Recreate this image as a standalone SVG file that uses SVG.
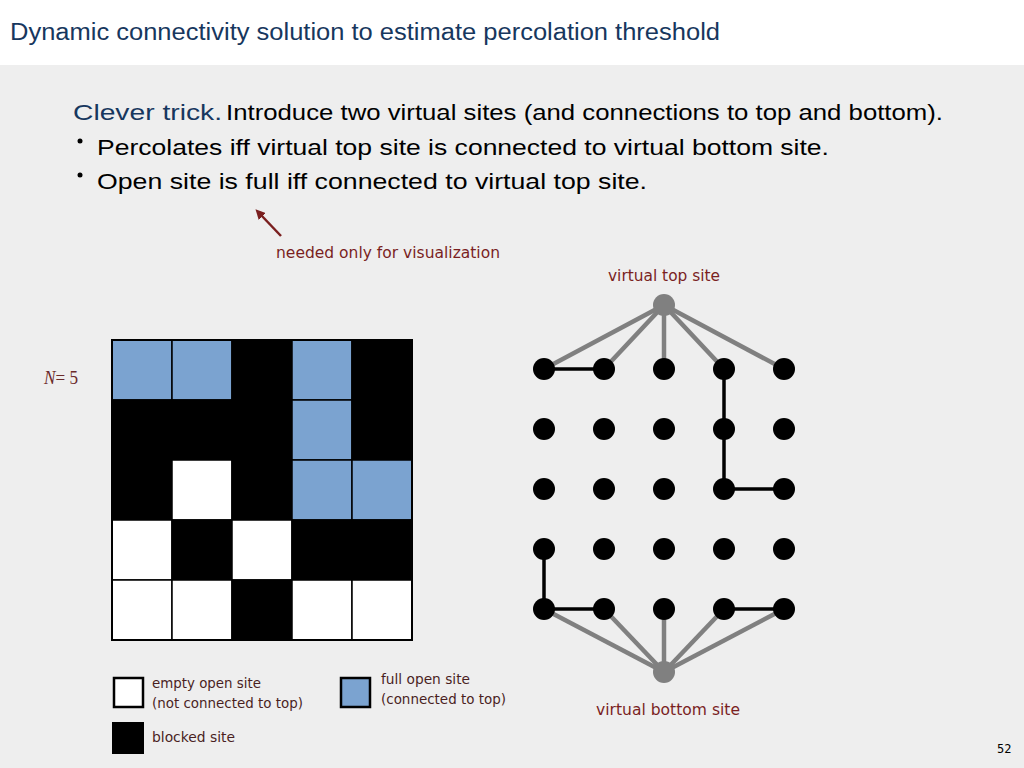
<svg xmlns="http://www.w3.org/2000/svg" width="1024" height="768" viewBox="0 0 1024 768">
<defs>
<style>
.title{font-family:"Liberation Sans",Arial,sans-serif;font-size:23px;fill:#17375e}
.body{font-family:"Liberation Sans",Arial,sans-serif;font-size:22px;fill:#000}
.note{font-family:"DejaVu Sans","Liberation Sans",sans-serif;font-size:15px;fill:#7a1f1f}
.leg{font-family:"DejaVu Sans","Liberation Sans",sans-serif;font-size:13.5px;fill:#4a1f1f}
.cell{stroke:#000;stroke-width:1.5}
.b{fill:#7ba3d0}.k{fill:#000}.w{fill:#fff}
.dot{fill:#000}
.vdot{fill:#808080}
.g{stroke:#808080;stroke-width:4.5}
.e{stroke:#000;stroke-width:3.5}
</style>
<marker id="ah" viewBox="0 0 10 10" refX="2" refY="5" markerWidth="4" markerHeight="4" orient="auto">
<path d="M0,0 L10,5 L0,10 z" fill="#7a1f1f"/>
</marker>
</defs>
<rect x="0" y="0" width="1024" height="768" fill="#eeeeee"/>
<rect x="0" y="0" width="1024" height="65" fill="#ffffff"/>
<text class="title" x="10" y="40" textLength="710" lengthAdjust="spacingAndGlyphs">Dynamic connectivity solution to estimate percolation threshold</text>

<g id="text-body">
<text class="body" x="73" y="120"><tspan fill="#17375e" textLength="149" lengthAdjust="spacingAndGlyphs">Clever trick.</tspan><tspan x="226" textLength="717" lengthAdjust="spacingAndGlyphs">Introduce two virtual sites (and connections to top and bottom).</tspan></text>
<circle cx="80" cy="141" r="2.5" fill="#000"/>
<text class="body" x="97" y="155" textLength="732" lengthAdjust="spacingAndGlyphs">Percolates iff virtual top site is connected to virtual bottom site.</text>
<circle cx="80" cy="175" r="2.5" fill="#000"/>
<text class="body" x="97" y="189" textLength="550" lengthAdjust="spacingAndGlyphs">Open site is full iff connected to virtual top site.</text>
</g>

<g id="note">
<line x1="281" y1="236" x2="261" y2="215" stroke="#7a1f1f" stroke-width="2.5" marker-end="url(#ah)"/>
<text class="note" x="276" y="258" textLength="224" lengthAdjust="spacingAndGlyphs">needed only for visualization</text>
</g>

<text x="44" y="384" font-family="Liberation Serif,serif" font-size="18" fill="#6b2a2a" textLength="34" lengthAdjust="spacingAndGlyphs"><tspan font-style="italic">N</tspan>= 5</text>

<g id="grid">
<rect class="cell b" x="112" y="340" width="60" height="60"/>
<rect class="cell b" x="172" y="340" width="60" height="60"/>
<rect class="cell k" x="232" y="340" width="60" height="60"/>
<rect class="cell b" x="292" y="340" width="60" height="60"/>
<rect class="cell k" x="352" y="340" width="60" height="60"/>
<rect class="cell k" x="112" y="400" width="60" height="60"/>
<rect class="cell k" x="172" y="400" width="60" height="60"/>
<rect class="cell k" x="232" y="400" width="60" height="60"/>
<rect class="cell b" x="292" y="400" width="60" height="60"/>
<rect class="cell k" x="352" y="400" width="60" height="60"/>
<rect class="cell k" x="112" y="460" width="60" height="60"/>
<rect class="cell w" x="172" y="460" width="60" height="60"/>
<rect class="cell k" x="232" y="460" width="60" height="60"/>
<rect class="cell b" x="292" y="460" width="60" height="60"/>
<rect class="cell b" x="352" y="460" width="60" height="60"/>
<rect class="cell w" x="112" y="520" width="60" height="60"/>
<rect class="cell k" x="172" y="520" width="60" height="60"/>
<rect class="cell w" x="232" y="520" width="60" height="60"/>
<rect class="cell k" x="292" y="520" width="60" height="60"/>
<rect class="cell k" x="352" y="520" width="60" height="60"/>
<rect class="cell w" x="112" y="580" width="60" height="60"/>
<rect class="cell w" x="172" y="580" width="60" height="60"/>
<rect class="cell k" x="232" y="580" width="60" height="60"/>
<rect class="cell w" x="292" y="580" width="60" height="60"/>
<rect class="cell w" x="352" y="580" width="60" height="60"/>
<rect x="112" y="340" width="300" height="300" fill="none" stroke="#000" stroke-width="2"/>
</g>

<g id="connectors">
<line class="g" x1="664" y1="305" x2="544" y2="369"/>
<line class="g" x1="664" y1="305" x2="604" y2="369"/>
<line class="g" x1="664" y1="305" x2="664" y2="369"/>
<line class="g" x1="664" y1="305" x2="724" y2="369"/>
<line class="g" x1="664" y1="305" x2="784" y2="369"/>
<line class="g" x1="664" y1="672" x2="544" y2="609"/>
<line class="g" x1="664" y1="672" x2="604" y2="609"/>
<line class="g" x1="664" y1="672" x2="664" y2="609"/>
<line class="g" x1="664" y1="672" x2="724" y2="609"/>
<line class="g" x1="664" y1="672" x2="784" y2="609"/>
<line class="e" x1="544" y1="369" x2="604" y2="369"/>
<line class="e" x1="724" y1="369" x2="724" y2="489"/>
<line class="e" x1="724" y1="489" x2="784" y2="489"/>
<line class="e" x1="544" y1="549" x2="544" y2="609"/>
<line class="e" x1="544" y1="609" x2="604" y2="609"/>
<line class="e" x1="724" y1="609" x2="784" y2="609"/>
</g>

<g id="virtual-top"><circle class="vdot" cx="664" cy="305" r="11"/></g>
<g id="virtual-bottom"><circle class="vdot" cx="664" cy="672" r="11"/></g>

<g id="sites">
<circle class="dot" cx="544" cy="369" r="11"/><circle class="dot" cx="604" cy="369" r="11"/><circle class="dot" cx="664" cy="369" r="11"/><circle class="dot" cx="724" cy="369" r="11"/><circle class="dot" cx="784" cy="369" r="11"/>
<circle class="dot" cx="544" cy="429" r="11"/><circle class="dot" cx="604" cy="429" r="11"/><circle class="dot" cx="664" cy="429" r="11"/><circle class="dot" cx="724" cy="429" r="11"/><circle class="dot" cx="784" cy="429" r="11"/>
<circle class="dot" cx="544" cy="489" r="11"/><circle class="dot" cx="604" cy="489" r="11"/><circle class="dot" cx="664" cy="489" r="11"/><circle class="dot" cx="724" cy="489" r="11"/><circle class="dot" cx="784" cy="489" r="11"/>
<circle class="dot" cx="544" cy="549" r="11"/><circle class="dot" cx="604" cy="549" r="11"/><circle class="dot" cx="664" cy="549" r="11"/><circle class="dot" cx="724" cy="549" r="11"/><circle class="dot" cx="784" cy="549" r="11"/>
<circle class="dot" cx="544" cy="609" r="11"/><circle class="dot" cx="604" cy="609" r="11"/><circle class="dot" cx="664" cy="609" r="11"/><circle class="dot" cx="724" cy="609" r="11"/><circle class="dot" cx="784" cy="609" r="11"/>
</g>

<text class="note" x="608" y="281" textLength="112" lengthAdjust="spacingAndGlyphs">virtual top site</text>
<text class="note" x="596" y="715" textLength="144" lengthAdjust="spacingAndGlyphs">virtual bottom site</text>

<g id="legend">
<rect x="114" y="678" width="29" height="29" fill="#fff" stroke="#000" stroke-width="2.5"/>
<text class="leg" x="152" y="688" textLength="109" lengthAdjust="spacingAndGlyphs">empty open site</text>
<text class="leg" x="152" y="708" textLength="151" lengthAdjust="spacingAndGlyphs">(not connected to top)</text>
<rect x="341" y="678" width="29" height="29" fill="#7ba3d0" stroke="#000" stroke-width="2.5"/>
<text class="leg" x="381" y="684" textLength="89" lengthAdjust="spacingAndGlyphs">full open site</text>
<text class="leg" x="381" y="704" textLength="125" lengthAdjust="spacingAndGlyphs">(connected to top)</text>
<rect x="112" y="722" width="32" height="32" fill="#000"/>
<text class="leg" x="152" y="742" textLength="83" lengthAdjust="spacingAndGlyphs">blocked site</text>
</g>

<text x="997" y="753" font-family="DejaVu Sans Mono,monospace" font-size="12" fill="#000">52</text>
</svg>
